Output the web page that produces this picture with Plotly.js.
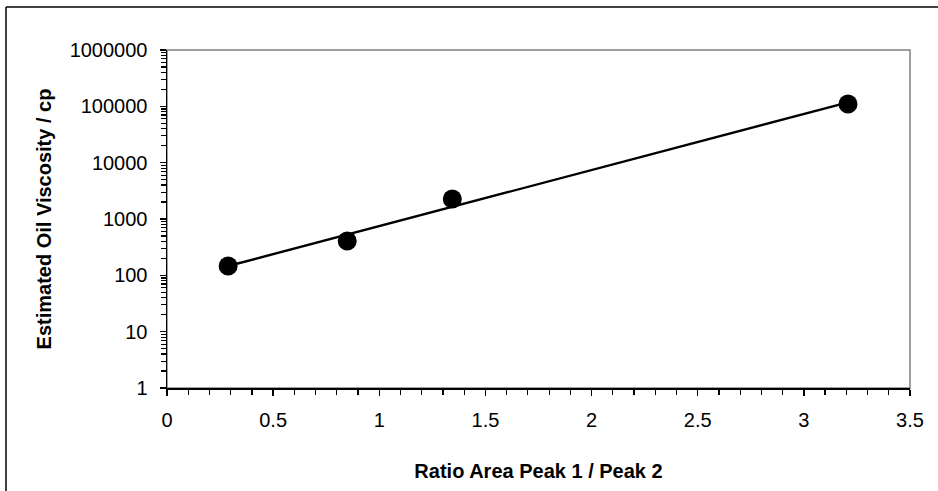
<!DOCTYPE html>
<html>
<head>
<meta charset="utf-8">
<script src="https://cdn.plot.ly/plotly-3.0.1.min.js"></script>
<style>
html,body{margin:0;padding:0;background:#fff;}
#chart{width:938px;height:491px;}
</style>
</head>
<body>
<div id="chart"></div>
<script>
// Data
var ratioPeak = [0.288, 0.849, 1.344, 3.208];
var viscosity = [147, 408, 2270, 110000];
var xTickVals = [0, 0.5, 1, 1.5, 2, 2.5, 3, 3.5];
var yTickVals = [1, 10, 100, 1000, 10000, 100000, 1000000];
var yTickText = ["1", "10", "100", "1000", "10000", "100000", "1000000"];

// Exponential trendline (least squares on log10 of y)
var n = ratioPeak.length, sx = 0, sy = 0, sxx = 0, sxy = 0;
for (var i = 0; i < n; i++) {
  var lx = ratioPeak[i], ly = Math.log10(viscosity[i]);
  sx += lx; sy += ly; sxx += lx * lx; sxy += lx * ly;
}
var slope = (n * sxy - sx * sy) / (n * sxx - sx * sx);
var intercept = (sy - slope * sx) / n;
var xmin = Math.min.apply(null, ratioPeak), xmax = Math.max.apply(null, ratioPeak);
var trendX = [xmin, xmax];
var trendY = trendX.map(function (v) { return Math.pow(10, intercept + slope * v); });

var W = 938, H = 491, L = 167, R = 28, T = 50, B = 103;
var pw = W - L - R, ph = H - T - B;
function px(x) { return (x - L) / pw; }
function py(y) { return (H - B - y) / ph; }

var font = "Liberation Sans, Arial, sans-serif";

var data = [
  {
    x: trendX, y: trendY, type: "scatter", mode: "lines",
    line: {color: "#000", width: 2.4}, hoverinfo: "skip", showlegend: false
  },
  {
    x: ratioPeak, y: viscosity, type: "scatter", mode: "markers",
    marker: {color: "#000", size: 19}, showlegend: false
  }
];

var layout = {
  width: W, height: H,
  margin: {l: L, r: R, t: T, b: B, pad: 0},
  paper_bgcolor: "#fff", plot_bgcolor: "#fff",
  font: {family: font, size: 20, color: "#000"},
  showlegend: false,
  xaxis: {
    range: [0, 3.5], tickvals: xTickVals, ticktext: xTickVals.map(String),
    showgrid: false, zeroline: false, showline: true, linecolor: "#000", linewidth: 1.5,
    ticks: "outside", ticklen: 6, tickcolor: "#000", tickwidth: 1.5,
    minor: {dtick: 0.1, ticks: "outside", ticklen: 5, tickcolor: "#000", tickwidth: 1.2, showgrid: false},
    tickfont: {family: font, size: 20, color: "#000"},
    ticklabelstandoff: 7,
    title: {text: "Ratio Area Peak 1 / Peak 2", font: {family: font, size: 20, color: "#000", weight: "bold"}, standoff: 34}
  },
  yaxis: {
    type: "log", range: [0, 6], tickvals: yTickVals, ticktext: yTickText,
    showgrid: false, zeroline: false, showline: true, linecolor: "#000", linewidth: 1.5,
    ticks: "outside", ticklen: 6, tickcolor: "#000", tickwidth: 1.5,
    minor: {dtick: "D1", ticks: "outside", ticklen: 5, tickcolor: "#000", tickwidth: 1.2, showgrid: false},
    tickfont: {family: font, size: 20, color: "#000"},
    ticklabelstandoff: 8,
    title: {text: "Estimated Oil Viscosity / cp", font: {family: font, size: 20, color: "#000", weight: "bold"}, standoff: 12}
  },
  shapes: [
    {type: "rect", xref: "paper", yref: "paper", x0: 0, x1: 1, y0: 0, y1: 1,
     line: {color: "#808080", width: 1.5}, layer: "below"},
    {type: "line", xref: "paper", yref: "paper", x0: px(6), x1: px(940), y0: py(7), y1: py(7),
     line: {color: "#000", width: 1.5}},
    {type: "line", xref: "paper", yref: "paper", x0: px(6), x1: px(6), y0: py(7), y1: py(495),
     line: {color: "#000", width: 1.5}}
  ]
};

Plotly.newPlot("chart", data, layout, {displayModeBar: false, staticPlot: true});
</script>
</body>
</html>
